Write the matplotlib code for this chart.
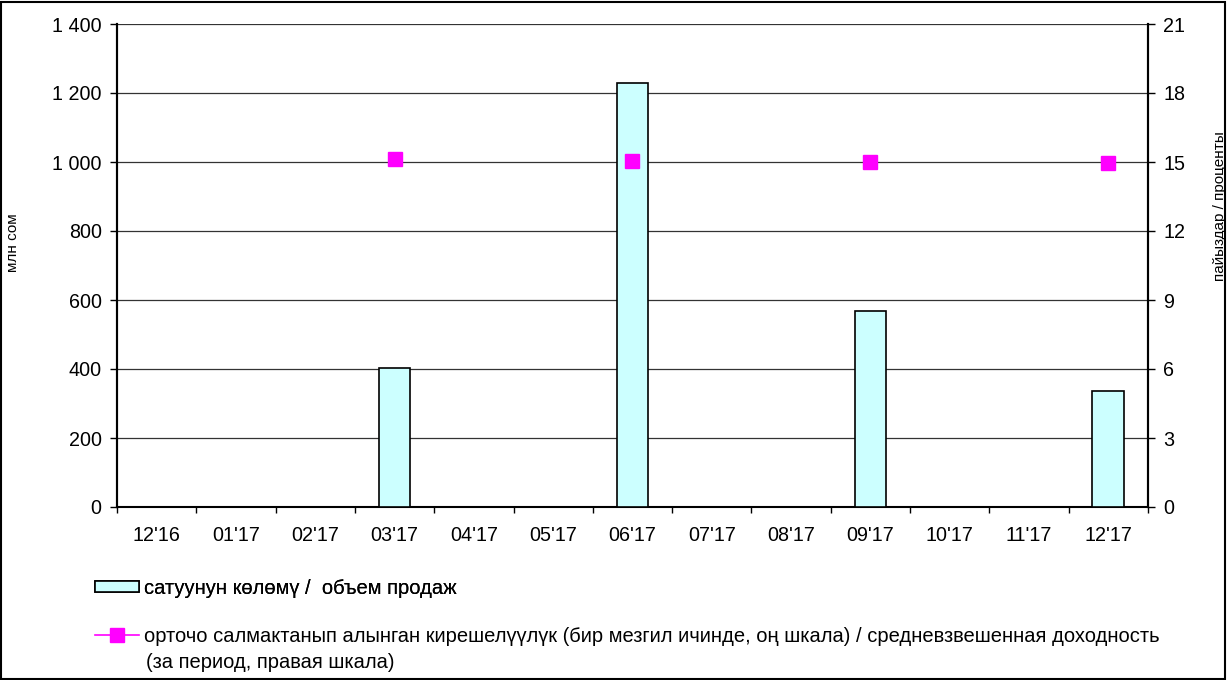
import numpy as np
import matplotlib
matplotlib.use('Agg')
import matplotlib.pyplot as plt
from matplotlib.ticker import FuncFormatter, FixedLocator, MultipleLocator
from matplotlib.patches import Rectangle

plt.rcParams['font.family'] = ['Liberation Sans', 'DejaVu Sans']

# Data
months = ["12'16", "01'17", "02'17", "03'17", "04'17", "05'17", "06'17",
          "07'17", "08'17", "09'17", "10'17", "11'17", "12'17"]
sales_volume = [0, 0, 0, 403, 0, 0, 1230, 0, 0, 569, 0, 0, 335]
avg_yield = [np.nan, np.nan, np.nan, 15.12, np.nan, np.nan, 15.03,
             np.nan, np.nan, 15.02, np.nan, np.nan, 14.97]

bar_label = 'сатуунун көлөмү /  объем продаж'
line_label = 'орточо салмактанып алынган кирешелүүлүк (бир мезгил ичинде, оң шкала) / средневзвешенная доходность'
line_label_cont = '(за период, правая шкала)'

FS = 14.2
LEG_FS = 14.5

W, H = 1227, 680
fig = plt.figure(figsize=(W / 100, H / 100), dpi=100)
ax = fig.add_axes([117 / W, 1 - 507 / H, (1148 - 117) / W, (507 - 24) / H])
ax2 = ax.twinx()

x = np.arange(len(months))
bars = ax.bar(x, sales_volume, width=0.4, color='#CCFFFF',
              edgecolor='black', linewidth=1.2, zorder=3)
line, = ax2.plot(x, avg_yield, color='#FF00FF', marker='s', markersize=10,
                 linewidth=1.2, zorder=4)

# Left axis
ax.set_xlim(-0.5, len(months) - 0.5)
ax.set_ylim(0, 1400)
ax.yaxis.set_major_locator(MultipleLocator(200))
ax.yaxis.set_major_formatter(FuncFormatter(lambda v, p: f'{int(v):,}'.replace(',', ' ')))
ax.grid(axis='y', color='black', linewidth=0.9, alpha=0.8, zorder=0)
ax.set_axisbelow(True)
ax.set_ylabel('млн сом', fontsize=11)
ax.yaxis.set_label_coords(-0.094, 0.547)

# Right axis
ax2.set_ylim(0, 21)
ax2.yaxis.set_major_locator(MultipleLocator(3))
ax2.set_ylabel('пайыздар / проценты', fontsize=11, rotation=90)
ax2.yaxis.set_label_coords(1.063, 0.623)

# x ticks: marks between categories, labels at centres
ax.xaxis.set_major_locator(FixedLocator(np.arange(-0.5, len(months), 1.0)))
ax.set_xticklabels([], minor=False)
ax.set_xticks(x, months, minor=True)
ax.tick_params(axis='x', which='major', length=4, width=1, direction='out')
ax.tick_params(axis='x', which='minor', length=0, pad=14, labelsize=FS)
ax.tick_params(axis='y', length=5, width=1, labelsize=FS, pad=6)
ax2.tick_params(axis='y', length=5, width=1, labelsize=FS, pad=6)

for a in (ax, ax2):
    a.spines['top'].set_visible(False)
    for s in ('left', 'right', 'bottom'):
        a.spines[s].set_linewidth(1.5)
ax2.spines['bottom'].set_visible(False)

# Legend entries stacked below the plot
leg1 = fig.legend([bars], [bar_label], loc='center left',
                  bbox_to_anchor=(87 / W, 1 - 588 / H), frameon=False,
                  fontsize=LEG_FS, handlelength=2.2, handleheight=0.5,
                  handletextpad=0.25, borderaxespad=0)
leg2 = fig.legend([line], [line_label], loc='center left',
                  bbox_to_anchor=(87 / W, 1 - 637 / H), frameon=False,
                  fontsize=LEG_FS, handlelength=2.2, handletextpad=0.25,
                  borderaxespad=0)
fig.add_artist(leg1)
fig.text(146 / W, 1 - 662 / H, line_label_cont, fontsize=LEG_FS, va='center')

# Outer chart frame
fig.add_artist(Rectangle((1 / W, 1 / H), (W - 3) / W, (H - 3) / H,
                         transform=fig.transFigure, fill=False,
                         edgecolor='black', linewidth=1.5))

fig.savefig('out.png', dpi=100)
